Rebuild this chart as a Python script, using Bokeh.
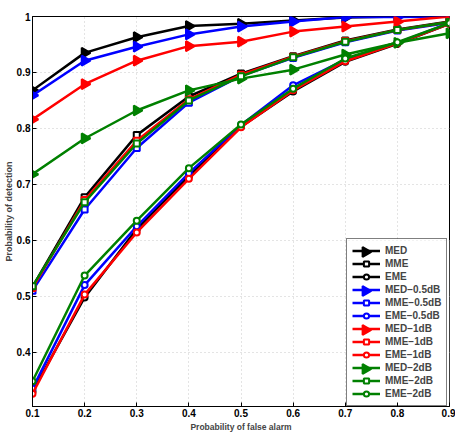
from bokeh.plotting import figure
from bokeh.models import Range1d, FixedTicker, Legend, LegendItem, CustomJSTickFormatter, ColumnDataSource
from bokeh.embed import file_html
from bokeh.resources import INLINE

# Probability of false alarm (x axis)
pfa = [0.1, 0.2, 0.3, 0.4, 0.5, 0.6, 0.7, 0.8, 0.9]

# Probability of detection, MED detector
med_0db = [0.868, 0.935, 0.963, 0.983, 0.987, 0.993, 0.998, 1.0, 1.0]
med_05db = [0.859, 0.921, 0.946, 0.968, 0.982, 0.991, 0.999, 0.999, 1.0]
med_1db = [0.816, 0.879, 0.921, 0.947, 0.955, 0.973, 0.982, 0.991, 1.0]
med_2db = [0.718, 0.782, 0.832, 0.868, 0.889, 0.905, 0.932, 0.953, 0.970]

# Probability of detection, MME detector
mme_0db = [0.517, 0.677, 0.788, 0.857, 0.898, 0.929, 0.957, 0.977, 0.991]
mme_05db = [0.510, 0.655, 0.765, 0.846, 0.894, 0.926, 0.954, 0.975, 0.989]
mme_1db = [0.515, 0.672, 0.778, 0.852, 0.896, 0.928, 0.956, 0.976, 0.990]
mme_2db = [0.518, 0.668, 0.773, 0.850, 0.893, 0.927, 0.955, 0.976, 0.990]

# Probability of detection, EME detector
eme_0db = [0.330, 0.498, 0.620, 0.715, 0.803, 0.866, 0.919, 0.951, 0.987]
eme_05db = [0.335, 0.520, 0.625, 0.720, 0.806, 0.877, 0.923, 0.953, 0.988]
eme_1db = [0.326, 0.503, 0.614, 0.710, 0.802, 0.868, 0.920, 0.952, 0.987]
eme_2db = [0.348, 0.537, 0.635, 0.729, 0.807, 0.871, 0.925, 0.954, 0.988]

x_ticks = [0.1, 0.2, 0.3, 0.4, 0.5, 0.6, 0.7, 0.8, 0.9]
y_ticks = [0.4, 0.5, 0.6, 0.7, 0.8, 0.9, 1.0]

FONT = "Liberation Sans"
FW, FH = 417, 390  # plot frame size in pixels

p = figure(frame_width=FW, frame_height=FH, output_backend="svg", toolbar_location=None,
           x_range=Range1d(0.1, 0.9), y_range=Range1d(0.303, 1.0),
           min_border_left=32, min_border_right=6, min_border_top=16, min_border_bottom=26)

p.outline_line_color = "black"
p.outline_line_width = 1
p.background_fill_color = "white"
p.border_fill_color = "white"

for ax in (p.xaxis[0], p.yaxis[0]):
    ax.major_label_text_font = FONT
    ax.major_label_text_font_style = "bold"
    ax.major_label_text_font_size = "10px"
    ax.major_label_text_color = "black"
    ax.axis_label_text_font = FONT
    ax.axis_label_text_font_style = "bold"
    ax.axis_label_text_font_size = "9px"
    ax.axis_label_standoff = 0
    ax.major_label_standoff = 2
    ax.major_tick_in = 4
    ax.major_tick_out = 0
    ax.minor_tick_in = 0
    ax.minor_tick_out = 0
    ax.axis_line_color = "black"

p.xaxis[0].ticker = FixedTicker(ticks=x_ticks)
p.yaxis[0].ticker = FixedTicker(ticks=y_ticks)
p.yaxis[0].formatter = CustomJSTickFormatter(code="return tick >= 0.999 ? '1' : tick.toFixed(1);")
p.xaxis[0].axis_label = "Probability of false alarm"
p.xaxis[0].axis_label_text_font_size = "8.5px"
p.xaxis[0].axis_label_standoff = 2
p.yaxis[0].axis_label = "Probability of detection"

p.grid.grid_line_color = "#c8c8c8"
p.grid.grid_line_dash = "1 3"
p.grid.grid_line_width = 1
p.xgrid.ticker = FixedTicker(ticks=x_ticks)
p.ygrid.ticker = FixedTicker(ticks=y_ticks)

colors = {"0": "#000000", "05": "#0000ff", "1": "#ff0000", "2": "#008000"}
series = [
    ("MED", med_0db, "0", "triangle"), ("MME", mme_0db, "0", "square"), ("EME", eme_0db, "0", "circle"),
    ("MED\u22120.5dB", med_05db, "05", "triangle"), ("MME\u22120.5dB", mme_05db, "05", "square"), ("EME\u22120.5dB", eme_05db, "05", "circle"),
    ("MED\u22121dB", med_1db, "1", "triangle"), ("MME\u22121dB", mme_1db, "1", "square"), ("EME\u22121dB", eme_1db, "1", "circle"),
    ("MED\u22122dB", med_2db, "2", "triangle"), ("MME\u22122dB", mme_2db, "2", "square"), ("EME\u22122dB", eme_2db, "2", "circle"),
]

TRI_SIZE = 10
items = []
for label, ys, key, marker in series:
    c = colors[key]
    ln = p.line(pfa, ys, line_color=c, line_width=2.5)
    if marker == "triangle":
        # right-pointing triangles: rotate the upward marker by -90 degrees
        src = ColumnDataSource(dict(x=pfa, y=ys, ang=[-90.0] * len(pfa)))
        p.scatter("x", "y", source=src, marker="triangle", size=TRI_SIZE, angle="ang",
                  angle_units="deg", line_color=c, fill_color=c, line_width=2)
        items.append(LegendItem(label=label, renderers=[ln]))
    else:
        mk = p.scatter(pfa, ys, marker=marker, size=6,
                       line_color=c, fill_color="white", line_width=2)
        items.append(LegendItem(label=label, renderers=[ln, mk]))

# legend geometry (pixels, relative to the frame's bottom-left corner)
LG_X, PAD, GW, ROW = 314, 5, 28, 13
lg_height = 2 * PAD + ROW * len(series)

# legend keys do not rotate markers: the legend box is transparent and drawn over
# a white panel, and the rotated key triangles sit on that panel, all on a
# pixel-scaled range pair
p.extra_x_ranges = {"px": Range1d(0, FW)}
p.extra_y_ranges = {"px": Range1d(0, FH)}
p.quad(left=[LG_X], right=[FW], bottom=[0], top=[lg_height], fill_color="white",
       line_color=None, x_range_name="px", y_range_name="px")
key_x, key_y, key_c = [], [], []
for i, (label, ys, key, marker) in enumerate(series):
    if marker == "triangle":
        key_x.append(LG_X + PAD + GW / 2)
        key_y.append(lg_height - PAD - ROW * i - ROW / 2)
        key_c.append(colors[key])
key_src = ColumnDataSource(dict(x=key_x, y=key_y, c=key_c, ang=[-90.0] * len(key_x)))
p.scatter("x", "y", source=key_src, marker="triangle", size=TRI_SIZE, angle="ang", angle_units="deg",
          line_color="c", fill_color="c", line_width=2, x_range_name="px", y_range_name="px")

legend = Legend(items=items, location=(LG_X, 0), margin=0, padding=PAD, spacing=0,
                glyph_width=GW, glyph_height=ROW, label_height=ROW, label_standoff=5,
                label_text_font=FONT, label_text_font_style="bold", label_text_font_size="10px",
                border_line_color="black", border_line_width=1, background_fill_alpha=0)
p.add_layout(legend)

open("out.html", "w").write(file_html(p, INLINE))
